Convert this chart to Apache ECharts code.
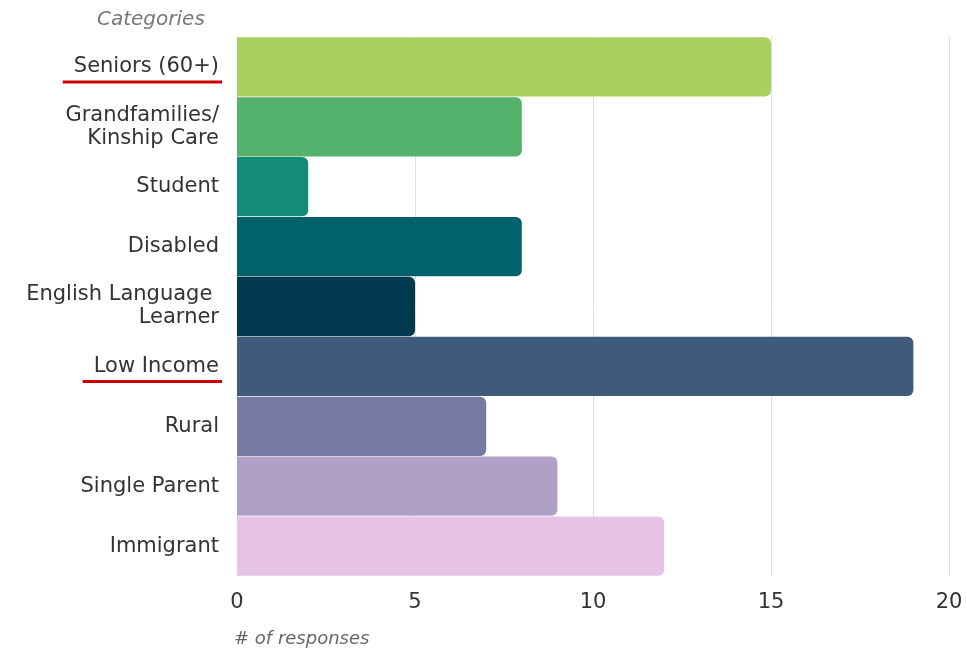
<!DOCTYPE html>
<html>
<head>
<meta charset="utf-8">
<script src="https://cdn.jsdelivr.net/npm/echarts@6/dist/echarts.min.js"></script>
<style>html,body{margin:0;padding:0;background:#fff}#c{width:967px;height:650px}</style>
</head>
<body>
<div id="c"></div>
<script>
const categories = ["Seniors (60+)", "Grandfamilies/\nKinship Care", "Student", "Disabled", "English Language \nLearner", "Low Income", "Rural", "Single Parent", "Immigrant"];
const values = [15, 8, 2, 8, 5, 19, 7, 9, 12];
const colors = ["#a9cf5e", "#55b26c", "#128c78", "#01616c", "#013a4e", "#3f5b79", "#767ca1", "#b0a0c8", "#e6c3e3"];
const highlighted = ["Seniors (60+)", "Low Income"];
const xTicks = [0, 5, 10, 15, 20];

const FONT = "DejaVu Sans";
const chart = echarts.init(document.getElementById('c'));
const option = {
  animation: false,
  backgroundColor: '#fff',
  title: [
    {text: 'Categories', left: 92, top: 5, textStyle: {fontFamily: FONT, fontStyle: 'italic', fontWeight: 'normal', fontSize: 20, color: '#777'}},
    {text: '# of responses', left: 229, top: 625, textStyle: {fontFamily: FONT, fontStyle: 'italic', fontWeight: 'normal', fontSize: 18, color: '#666'}}
  ],
  grid: {left: 237, right: 18, top: 37, bottom: 74, containLabel: false},
  xAxis: {
    type: 'value', min: xTicks[0], max: xTicks[xTicks.length - 1], interval: 5,
    axisLine: {show: false}, axisTick: {show: false},
    splitLine: {show: true, lineStyle: {color: '#dedede', width: 1}},
    axisLabel: {fontFamily: FONT, fontSize: 21, color: '#333', margin: 16}
  },
  yAxis: {
    type: 'category', data: categories, inverse: true,
    axisLine: {show: false}, axisTick: {show: false},
    axisLabel: {fontFamily: FONT, fontSize: 21, color: '#333', margin: 18, lineHeight: 23, align: 'right'}
  },
  series: [{
    type: 'bar',
    data: values.map((v, i) => ({value: v, itemStyle: {color: colors[i]}})),
    barCategoryGap: '1%',
    itemStyle: {borderRadius: [0, 6, 6, 0]}
  }]
};
chart.setOption(option);

// red underlines under highlighted category labels
const gfx = [];
highlighted.forEach(name => {
  const y = chart.convertToPixel({yAxisIndex: 0}, name);
  const ctx = document.createElement('canvas').getContext('2d');
  ctx.font = '21px ' + FONT;
  const w = ctx.measureText(name).width;
  const right = 222;
  gfx.push({type: 'line', shape: {x1: right - w - 14, y1: y + 15, x2: right, y2: y + 15}, style: {stroke: '#cc0000', lineWidth: 3}});
});
chart.setOption({graphic: gfx});
</script>
</body>
</html>
